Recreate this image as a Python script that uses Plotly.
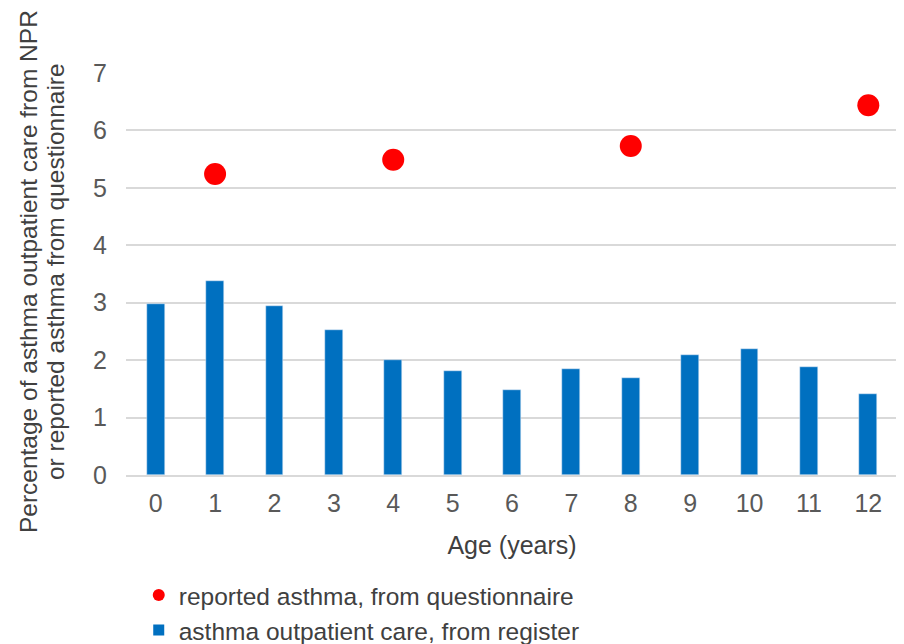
import plotly.graph_objects as go

ages = list(range(13))
register_pct = [2.98, 3.38, 2.94, 2.52, 2.0, 1.81, 1.48, 1.85, 1.69, 2.09, 2.19, 1.88, 1.41]
quest_ages = [1, 4, 8, 12]
quest_pct = [5.24, 5.49, 5.73, 6.44]
y_ticks = [0, 1, 2, 3, 4, 5, 6, 7]
y_title_lines = ["Percentage of asthma outpatient care from NPR",
                 "or reported asthma from questionnaire"]

FONT = "Liberation Sans, Arial, sans-serif"
TXT = "#404040"
FS = 25

fig = go.Figure()
fig.add_trace(go.Bar(x=ages, y=register_pct, width=0.3, marker=dict(color="#0070C0"),
                     name="asthma outpatient care, from register", showlegend=False))
fig.add_trace(go.Scatter(x=quest_ages, y=quest_pct, mode="markers",
                         marker=dict(color="#FF0000", size=22),
                         name="reported asthma, from questionnaire", showlegend=False))
# legend entries
fig.add_trace(go.Scatter(x=[None], y=[None], mode="markers",
                         marker=dict(color="#FF0000", size=12, symbol="circle"),
                         name="reported asthma, from questionnaire"))
fig.add_trace(go.Scatter(x=[None], y=[None], mode="markers",
                         marker=dict(color="#0070C0", size=11, symbol="square"),
                         name="asthma outpatient care, from register"))

fig.update_layout(
    width=896, height=636,
    margin=dict(l=118, r=6, t=65, b=169, autoexpand=False),
    paper_bgcolor="white", plot_bgcolor="white",
    font=dict(family=FONT, size=FS, color=TXT),
    bargap=0,
    xaxis=dict(range=[-0.5, 12.5], tickmode="array", tickvals=ages,
               ticktext=[str(a) for a in ages], showgrid=False, zeroline=False,
               showline=True, linecolor="#D9D9D9", linewidth=1.5, ticks="",
               tickfont=dict(size=FS, color="#595959"), automargin=False,
               ticklabelstandoff=5,
               title=dict(text="Age (years)", font=dict(size=FS, color=TXT), standoff=21)),
    yaxis=dict(range=[0, 7], tickmode="array", tickvals=y_ticks,
               showgrid=True, gridcolor="#D9D9D9", gridwidth=1.5, zeroline=False,
               ticks="", tickfont=dict(size=FS, color="#595959"), ticklabelstandoff=18,
               automargin=False),
    legend=dict(orientation="v", x=0.0165, y=-0.243, xanchor="left", yanchor="top",
                font=dict(size=24.5, color=TXT), traceorder="normal",
                tracegroupgap=0, itemwidth=30),
    annotations=[
        dict(text=y_title_lines[0], textangle=-90, xref="paper", yref="paper",
             x=-0.1263, y=0.506, xanchor="center", yanchor="middle", showarrow=False,
             font=dict(size=24.5, color=TXT)),
        dict(text=y_title_lines[1], textangle=-90, xref="paper", yref="paper",
             x=-0.0913, y=0.506, xanchor="center", yanchor="middle", showarrow=False,
             font=dict(size=24.5, color=TXT)),
    ],
)

fig.write_html("out.html")
